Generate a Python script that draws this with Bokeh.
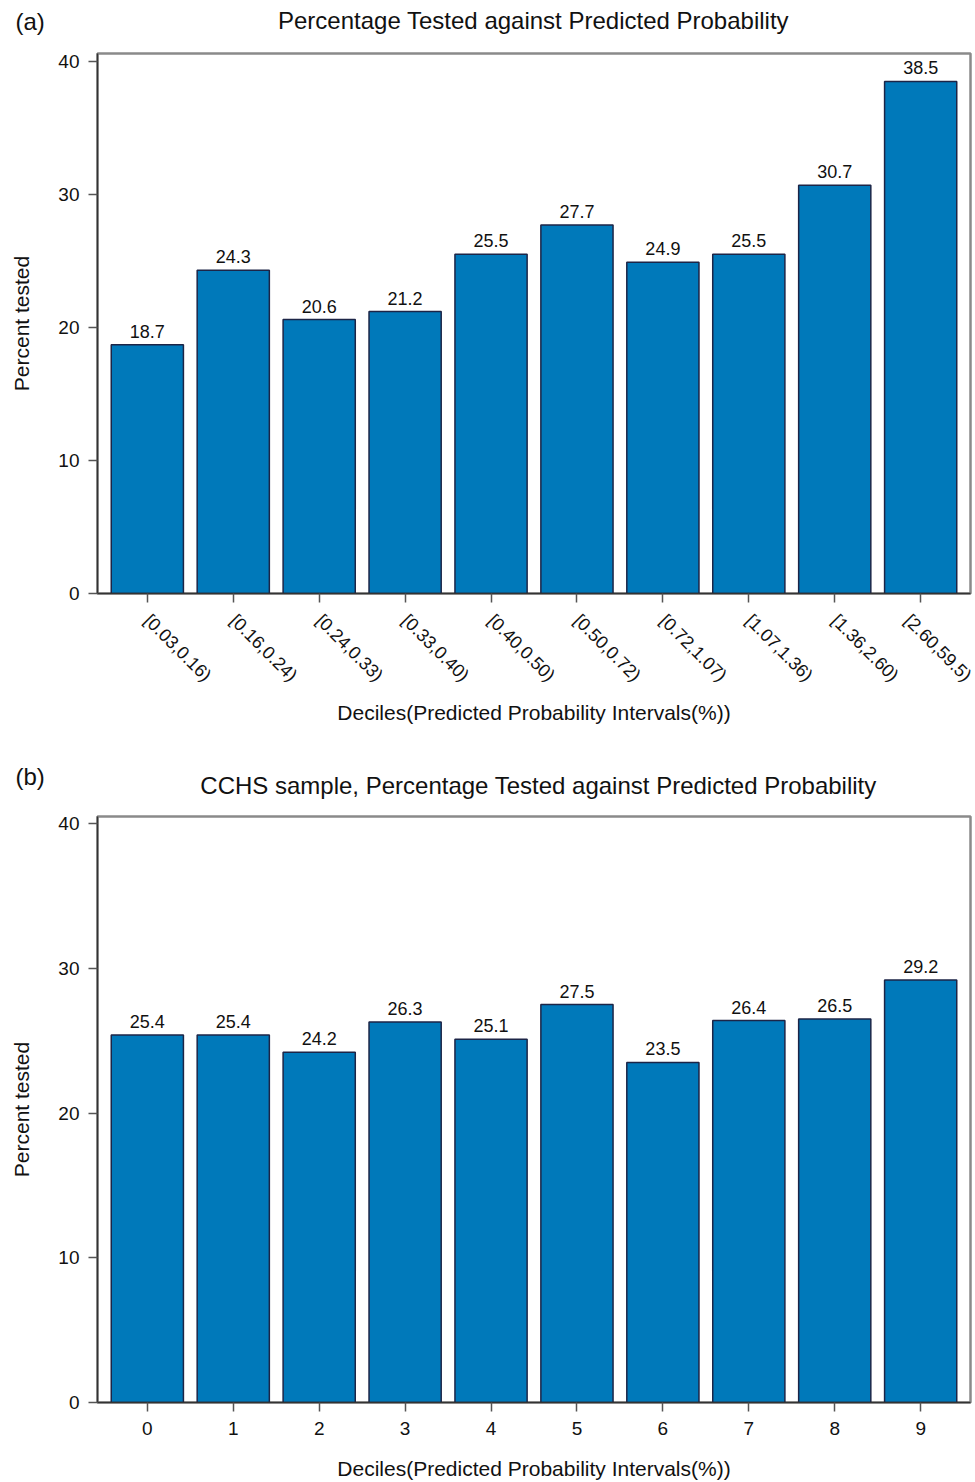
import math
from bokeh.plotting import figure
from bokeh.models import FactorRange, Range1d, FixedTicker, Label, ColumnDataSource
from bokeh.layouts import column
from bokeh.embed import file_html
from bokeh.resources import INLINE
from bokeh.core.properties import value

# ---- data ----
intervals_a = ["[0.03,0.16)", "[0.16,0.24)", "[0.24,0.33)", "[0.33,0.40)", "[0.40,0.50)",
               "[0.50,0.72)", "[0.72,1.07)", "[1.07,1.36)", "[1.36,2.60)", "[2.60,59.5)"]
pct_a = [18.7, 24.3, 20.6, 21.2, 25.5, 27.7, 24.9, 25.5, 30.7, 38.5]

deciles_b = ["0", "1", "2", "3", "4", "5", "6", "7", "8", "9"]
pct_b = [25.4, 25.4, 24.2, 26.3, 25.1, 27.5, 23.5, 26.4, 26.5, 29.2]

y_ticks = [0, 10, 20, 30, 40]

title_a = "Percentage Tested against Predicted Probability"
title_b = "CCHS sample, Percentage Tested against Predicted Probability"
x_label = "Deciles(Predicted Probability Intervals(%))"
y_label = "Percent tested"

FONT = "Liberation Sans"
BAR = "#0079BA"


def base_panel(cats, vals, height, border_top, border_bottom, y_end, rotate, x_label_standoff):
    src = ColumnDataSource(dict(cat=cats, val=vals, lab=[f"{v:.1f}" for v in vals]))
    p = figure(width=975, height=height,
               x_range=FactorRange(factors=cats, range_padding=0.08, range_padding_units="absolute"),
               y_range=Range1d(0, y_end),
               output_backend="svg", toolbar_location=None,
               min_border_left=97, min_border_right=5,
               min_border_top=border_top, min_border_bottom=border_bottom)
    p.vbar(x="cat", top="val", width=0.84, source=src, fill_color=BAR,
           line_color="#1c2547", line_width=1.5)
    p.text(x="cat", y="val", text="lab", source=src, text_align="center",
           text_baseline="bottom", y_offset=-7, text_font=value(FONT),
           text_font_size="18px", text_color="#111111")

    p.xgrid.visible = False
    p.ygrid.visible = False
    p.outline_line_color = "#8a8a8a"
    p.outline_line_width = 2.5

    p.yaxis.ticker = FixedTicker(ticks=y_ticks)
    for ax in (p.xaxis[0], p.yaxis[0]):
        ax.axis_line_color = "#333333"
        ax.axis_line_width = 1.5
        ax.major_tick_line_color = "#555555"
        ax.major_tick_line_width = 1.5
        ax.major_tick_out = 9
        ax.major_tick_in = 0
        ax.minor_tick_line_color = None
        ax.major_label_text_font = FONT
        ax.major_label_text_font_size = "19px"
        ax.major_label_text_color = "#111111"
        ax.axis_label_text_font = FONT
        ax.axis_label_text_font_size = "21px"
        ax.axis_label_text_font_style = "normal"
        ax.axis_label_text_color = "#111111"
    p.xaxis.axis_label = x_label
    p.yaxis.axis_label = y_label
    p.yaxis.major_label_standoff = 9
    p.yaxis.axis_label_standoff = 22
    p.xaxis.axis_label_standoff = x_label_standoff
    if rotate:
        p.xaxis.major_label_orientation = -math.pi / 4
        p.xaxis.major_label_text_font_size = "18px"
        p.xaxis.major_label_standoff = 15
    else:
        p.xaxis.major_label_standoff = 10
    return p


def text_label(text, x, y, align):
    return Label(x=x, y=y, x_units="screen", y_units="screen", text=text,
                 text_font=FONT, text_font_size="24px", text_baseline="middle",
                 text_align=align, text_color="#111111")


# panel (a)
p1 = base_panel(intervals_a, pct_a, height=760, border_top=53, border_bottom=167,
                y_end=40.6, rotate=True, x_label_standoff=6)
p1.add_layout(text_label(title_a, 436, 33, "center"), "above")
p1.add_layout(text_label("(a)", -82, 733, "left"), "below")

# panel (b)
p2 = base_panel(deciles_b, pct_b, height=722, border_top=55, border_bottom=80,
                y_end=40.5, rotate=False, x_label_standoff=19)
p2.add_layout(text_label(title_b, 441, 31, "center"), "above")
p2.title.text = "(b)"
p2.title.align = "left"
p2.title.offset = -82
p2.title.standoff = 0
p2.title.text_font = FONT
p2.title.text_font_size = "24px"
p2.title.text_font_style = "normal"
p2.title.text_color = "#111111"

layout = column(p1, p2, spacing=0)
open("out.html", "w").write(file_html(layout, INLINE))
